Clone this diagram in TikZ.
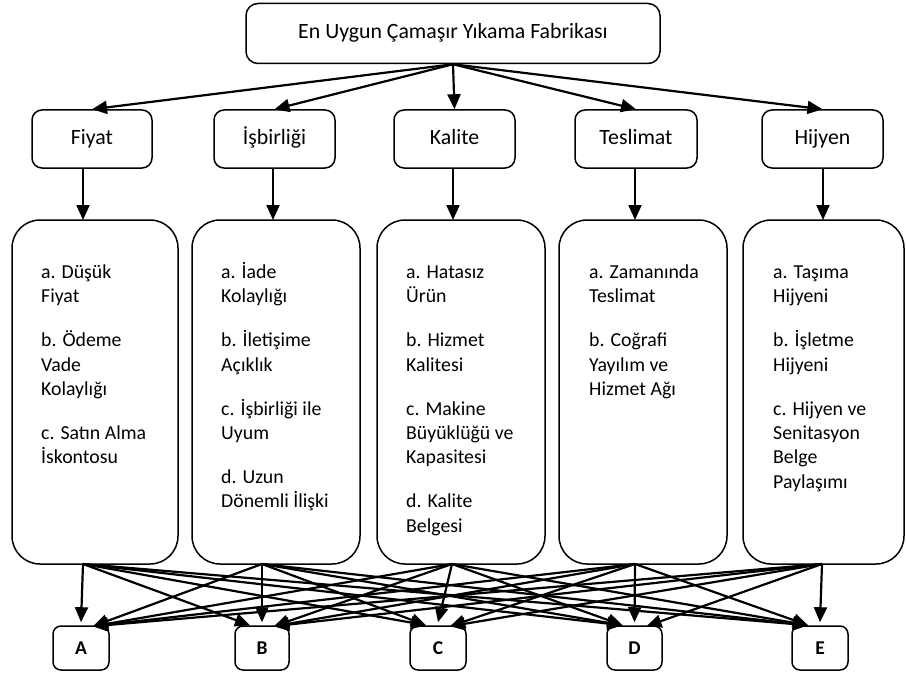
\documentclass[tikz,border=0pt]{standalone}
\usepackage{fontspec}
\setmainfont{Carlito}
\usetikzlibrary{arrows.meta,calc}
\newcommand\bxfont{\fontsize{19.8}{24.4}\selectfont}
\newcommand\hdfont{\fontsize{21.8}{26}\selectfont}
\begin{document}
\begin{tikzpicture}[x=1pt,y=-1pt,
  box/.style={draw, line width=1.5pt, rounded corners=10pt, inner sep=0pt, font=\hdfont, text height=15pt, text depth=4pt},
  bigbox/.style={draw, line width=1.5pt, rounded corners=28pt, minimum height=344pt, inner sep=0pt},
  altbox/.style={draw, line width=1.5pt, rounded corners=8pt, minimum width=56pt, minimum height=44pt, inner sep=0pt, font=\fontsize{19.5}{22}\selectfont\bfseries},
  txt/.style={anchor=north west, inner sep=0pt, align=left, font=\bxfont},
  arr/.style={line width=2.2pt, -{Triangle[length=15pt,width=13pt]}}]
\useasboundingbox (0,0) rectangle (906,677);
% top
\node[box, rounded corners=12pt, minimum width=414pt, minimum height=60pt] (top) at (453,33.5) {En Uygun Çamaşır Yıkama Fabrikası};
% criteria
\node[box, minimum width=120pt, minimum height=58pt] (c1) at (92,139) {Fiyat};
\node[box, minimum width=121pt, minimum height=58pt] (c2) at (274.5,139) {İşbirliği};
\node[box, minimum width=121pt, minimum height=58pt] (c3) at (454.5,139) {Kalite};
\node[box, minimum width=122pt, minimum height=58pt] (c4) at (636,139) {Teslimat};
\node[box, minimum width=121pt, minimum height=58pt] (c5) at (822.5,139) {Hijyen};
% big boxes
\node[bigbox, minimum width=166pt] (b1) at (95,392) {};
\node[bigbox, minimum width=168pt] (b2) at (276,392) {};
\node[bigbox, minimum width=168pt] (b3) at (461,392) {};
\node[bigbox, minimum width=168pt] (b4) at (643,392) {};
\node[bigbox, minimum width=161pt] (b5) at (823.5,392) {};
% texts
\node[txt] (x1) at (41,261) {\strut a. Düşük\\Fiyat\\[19.6pt]b. Ödeme\\Vade\\Kolaylığı\\[19.6pt]c. Satın Alma\\İskontosu};
\node[txt] (x2) at (221,261) {\strut a. İade\\Kolaylığı\\[19.6pt]b. İletişime\\Açıklık\\[19.6pt]c. İşbirliği ile\\Uyum\\[19.6pt]d. Uzun\\Dönemli İlişki};
\node[txt] (x3) at (406,261) {\strut a. Hatasız\\Ürün\\[19.6pt]b. Hizmet\\Kalitesi\\[19.6pt]c. Makine\\Büyüklüğü ve\\Kapasitesi\\[19.6pt]d. Kalite\\Belgesi};
\node[txt] (x4) at (589,261) {\strut a. Zamanında\\Teslimat\\[19.6pt]b. Coğrafi\\Yayılım ve\\Hizmet Ağı};
\node[txt] (x5) at (773,261) {\strut a. Taşıma\\Hijyeni\\[19.6pt]b. İşletme\\Hijyeni\\[19.6pt]c. Hijyen ve\\Senitasyon\\Belge\\Paylaşımı};
% alternatives
\node[altbox] (A) at (81,648) {A};
\node[altbox, minimum width=54pt] (B) at (262,648) {B};
\node[altbox] (C) at (438,648) {C};
\node[altbox, minimum width=55pt] (D) at (634.5,648) {D};
\node[altbox] (E) at (820,648) {E};
% entry / exit points
\coordinate (i1) at (83,220);
\coordinate (i2) at (273,220);
\coordinate (i3) at (453,220);
\coordinate (i4) at (635,220);
\coordinate (i5) at (823,220);
\coordinate (o1) at (83,564);
\coordinate (o2) at (262,564);
\coordinate (o3) at (452,564);
\coordinate (o4) at (635,564);
\coordinate (o5) at (822,564);
% top arrows
\foreach \k in {1,...,5}{
  \draw[arr] (top.south) -- (c\k.north);
  \draw[arr] (c\k.south -| i\k) -- (i\k);
}
% bottom arrows
\foreach \i in {1,...,5}{
  \foreach \t [count=\j] in {A,B,C,D,E}{
    \ifnum\i=\j \def\dx{0}\def\dy{-3}\fi
    \ifnum\i<\j \def\dx{-12}\def\dy{0}\fi
    \ifnum\i>\j \def\dx{12}\def\dy{1}\fi
    \draw[arr] (o\i) -- ($(\t.north)+(\dx,\dy)$);
  }
}
\end{tikzpicture}
\end{document}
